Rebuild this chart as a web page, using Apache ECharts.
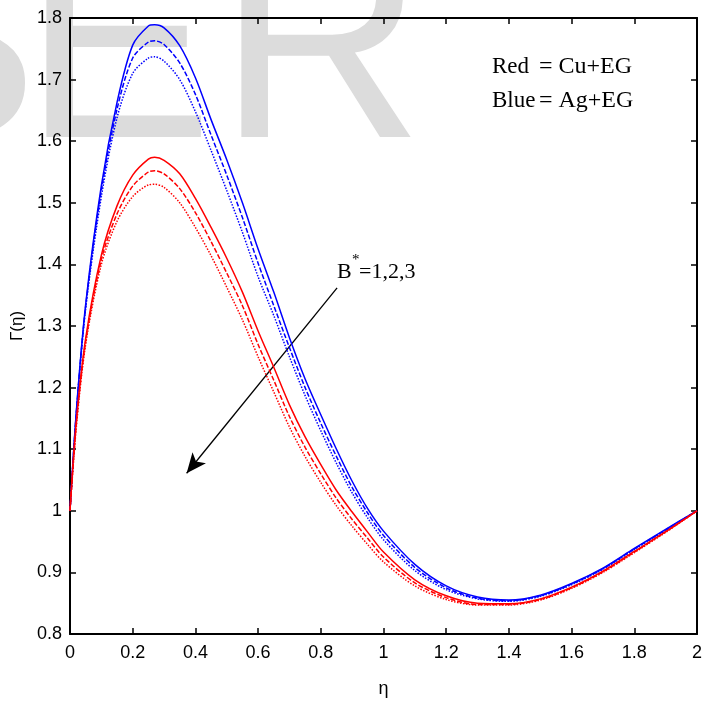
<!DOCTYPE html>
<html><head><meta charset="utf-8">
<script src="https://cdn.jsdelivr.net/npm/echarts@6/dist/echarts.min.js"></script>
<style>html,body{margin:0;padding:0;background:#fff}#c{width:720px;height:706px}</style>
</head><body><div id="c"></div><script>
// eta grid
const etaValues = [0, 0.02, 0.05, 0.1, 0.15, 0.2, 0.25, 0.27, 0.3, 0.35, 0.4, 0.45, 0.5, 0.55, 0.6, 0.65, 0.7, 0.75, 0.8, 0.85, 0.9, 0.95, 1.0, 1.1, 1.2, 1.3, 1.4, 1.5, 1.6, 1.7, 1.8, 1.9, 2.0];
// Blue = Ag+EG, B* = 1, 2, 3
const agB1 = [1.0, 1.16, 1.335, 1.528, 1.663, 1.756, 1.787, 1.789, 1.784, 1.755, 1.703, 1.635, 1.57, 1.50, 1.425, 1.355, 1.281, 1.214, 1.156, 1.10, 1.048, 1.003, 0.967, 0.913, 0.878, 0.86, 0.855, 0.863, 0.882, 0.907, 0.939, 0.97, 1.0];
const agB2 = [1.0, 1.158, 1.332, 1.52, 1.652, 1.735, 1.761, 1.763, 1.757, 1.727, 1.676, 1.61, 1.545, 1.476, 1.402, 1.333, 1.265, 1.2, 1.142, 1.088, 1.038, 0.996, 0.96, 0.908, 0.875, 0.858, 0.854, 0.862, 0.881, 0.906, 0.938, 0.969, 1.0];
const agB3 = [1.0, 1.155, 1.328, 1.51, 1.638, 1.71, 1.735, 1.737, 1.73, 1.70, 1.648, 1.585, 1.52, 1.452, 1.38, 1.317, 1.25, 1.187, 1.13, 1.077, 1.029, 0.988, 0.953, 0.903, 0.872, 0.857, 0.853, 0.861, 0.880, 0.905, 0.937, 0.968, 1.0];
// Red = Cu+EG, B* = 1, 2, 3
const cuB1 = [1.0, 1.145, 1.28, 1.415, 1.495, 1.545, 1.571, 1.574, 1.569, 1.547, 1.507, 1.46, 1.41, 1.355, 1.292, 1.233, 1.172, 1.12, 1.075, 1.033, 0.998, 0.965, 0.933, 0.888, 0.862, 0.85, 0.849, 0.857, 0.876, 0.902, 0.934, 0.966, 1.0];
const cuB2 = [1.0, 1.14, 1.275, 1.408, 1.482, 1.527, 1.55, 1.552, 1.547, 1.523, 1.484, 1.437, 1.386, 1.333, 1.27, 1.212, 1.153, 1.103, 1.06, 1.02, 0.986, 0.955, 0.925, 0.883, 0.859, 0.848, 0.848, 0.856, 0.875, 0.901, 0.933, 0.966, 1.0];
const cuB3 = [1.0, 1.135, 1.27, 1.40, 1.47, 1.51, 1.529, 1.53, 1.525, 1.50, 1.46, 1.414, 1.363, 1.31, 1.25, 1.193, 1.136, 1.088, 1.046, 1.008, 0.975, 0.945, 0.917, 0.878, 0.856, 0.847, 0.847, 0.855, 0.874, 0.900, 0.932, 0.965, 1.0];

const xTicks = {min: 0, max: 2, interval: 0.2};
const yTicks = {min: 0.8, max: 1.8, interval: 0.1};

// annotation anchors (data coordinates)
const legendAnchor = [1.346, 1.7075];
const bStarAnchor = [0.852, 1.3747];
const arrowFrom = [0.852, 1.362];
const arrowTo = [0.372, 1.061];

const zip = ys => etaValues.map((x, i) => [x, ys[i]]);
const BLUE = '#0000ff', RED = '#ff0000';
const dashTypes = ['solid', [5, 2], [1.5, 1.5]];

function mkSeries(name, ys, color, k) {
  return {
    name, type: 'line', data: zip(ys), showSymbol: false, smooth: 0.3,
    lineStyle: {color, width: 1.5, type: dashTypes[k]}, z: 5, silent: true
  };
}

const axisCommon = {
  axisLine: {show: true, onZero: false, lineStyle: {color: '#000', width: 2}},
  axisTick: {show: true, inside: true, length: 6, lineStyle: {color: '#000', width: 1.5}},
  splitLine: {show: false}
};
const labelFont = {color: '#000', fontFamily: 'Liberation Sans, Arial', fontSize: 18};

const chart = echarts.init(document.getElementById('c'), null, {renderer: 'canvas'});
const series = [
  mkSeries('Ag+EG B*=1', agB1, BLUE, 0),
  mkSeries('Ag+EG B*=2', agB2, BLUE, 1),
  mkSeries('Ag+EG B*=3', agB3, BLUE, 2),
  mkSeries('Cu+EG B*=1', cuB1, RED, 0),
  mkSeries('Cu+EG B*=2', cuB2, RED, 1),
  mkSeries('Cu+EG B*=3', cuB3, RED, 2)
];
series[0].markLine = {
  silent: true, symbol: ['none', 'arrow'], symbolSize: [13, 20],
  lineStyle: {color: '#000', width: 1.3, type: 'solid'},
  label: {show: false}, emphasis: {disabled: true},
  data: [[{coord: arrowFrom}, {coord: arrowTo}]]
};

chart.setOption({
  animation: false,
  backgroundColor: '#fff',
  grid: {left: 70, right: 23, top: 18, bottom: 72, containLabel: false},
  xAxis: [
    Object.assign({type: 'value', position: 'bottom', ...xTicks,
      name: 'η', nameLocation: 'middle', nameGap: 46,
      nameTextStyle: {color: '#000', fontFamily: 'Liberation Sans, Arial', fontSize: 18},
      axisLabel: Object.assign({margin: 10}, labelFont)}, axisCommon),
    Object.assign({type: 'value', position: 'top', ...xTicks, axisLabel: {show: false}}, axisCommon)
  ],
  yAxis: [
    Object.assign({type: 'value', position: 'left', ...yTicks,
      name: 'Γ(η)', nameLocation: 'middle', nameGap: 40, nameRotate: 90,
      nameTextStyle: {color: '#000', fontFamily: 'Liberation Sans, Arial', fontSize: 17},
      axisLabel: Object.assign({margin: 8}, labelFont)}, axisCommon),
    Object.assign({type: 'value', position: 'right', ...yTicks, axisLabel: {show: false}}, axisCommon)
  ],
  series
});

const p1 = chart.convertToPixel({gridIndex: 0}, legendAnchor);
const p2 = chart.convertToPixel({gridIndex: 0}, bStarAnchor);
const serif = 'Liberation Serif';
const wmColor = '#dcdcdc';
function wm(ch, x) {
  return {type: 'text', z: -10, silent: true, x, y: 201,
    style: {text: ch, fontSize: 285, fontFamily: 'Liberation Sans', fill: wmColor, verticalAlign: 'bottom', lineHeight: 285}};
}
function txt(t, x, y, size) {
  return {type: 'text', z: 10, silent: true, x, y,
    style: {text: t, fontSize: size, fontFamily: serif, fill: '#000', verticalAlign: 'middle'}};
}
chart.setOption({
  graphic: [
    wm('S', -152), wm('E', 23), wm('R', 218),
    txt('Red', p1[0], p1[1] - 8, 23),
    txt('= Cu+EG', p1[0] + 47, p1[1] - 8, 24),
    txt('Blue', p1[0], p1[1] + 26, 23),
    txt('= Ag+EG', p1[0] + 47, p1[1] + 26, 24),
    txt('B', p2[0], p2[1] - 7.5, 22),
    txt('*', p2[0] + 15, p2[1] - 20, 15),
    txt('=1,2,3', p2[0] + 22, p2[1] - 7.5, 22)
  ]
});
</script></body></html>
